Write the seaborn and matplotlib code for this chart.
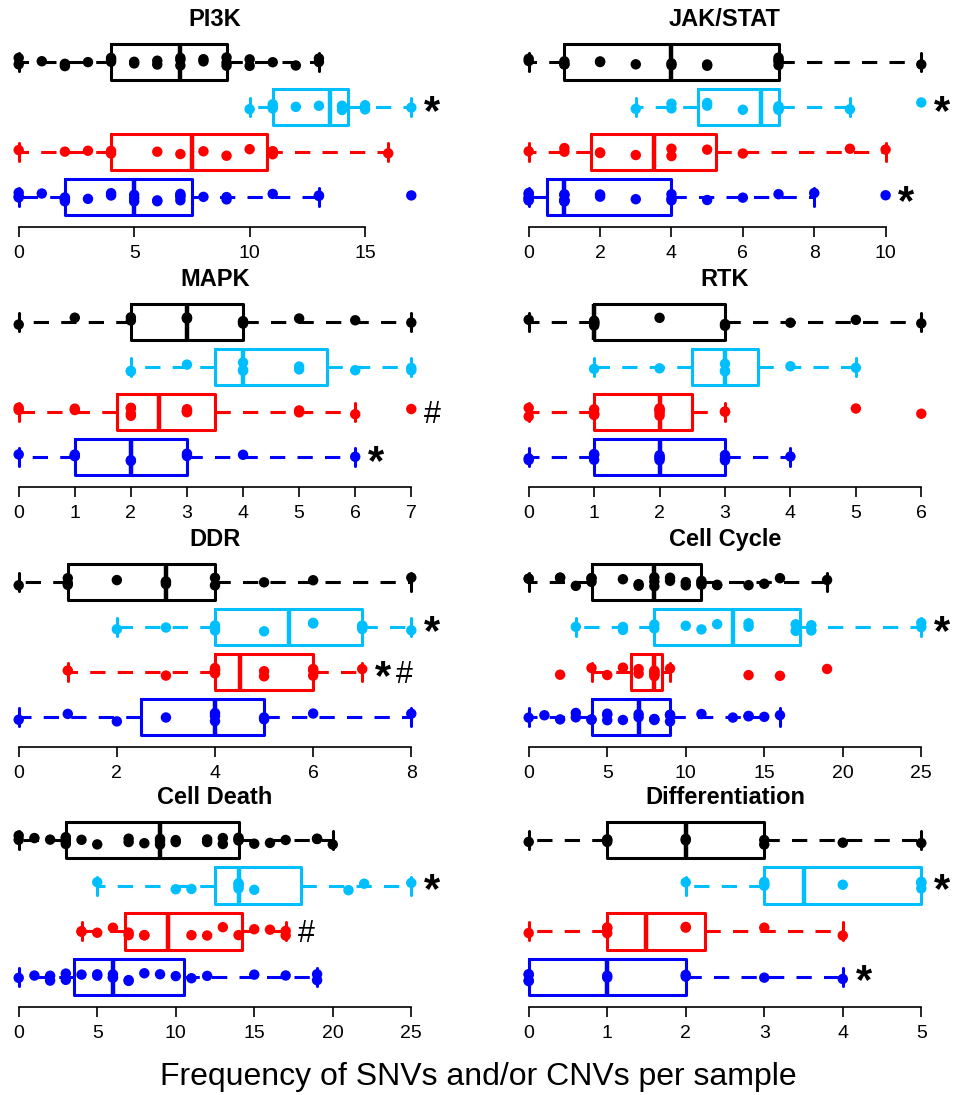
import numpy as np
import pandas as pd
import matplotlib
matplotlib.use("Agg")
import matplotlib.pyplot as plt
import seaborn as sns

# Gruplar (yukaridan asagiya) ve renkleri
GROUPS = ["Group 1", "Group 2", "Group 3", "Group 4"]
COLORS = ["black", "#00BFFF", "red", "blue"]

# PI3K
pi3k_g1 = [0, 0, 1, 2, 2, 3, 4, 4, 4, 5, 5, 6, 6, 7, 7, 7, 8, 8, 9, 9, 9, 10, 10, 11, 12, 13, 13]
pi3k_g2 = [10, 11, 11, 11, 12, 13, 14, 14, 14, 15, 15, 17]
pi3k_g3 = [0, 2, 3, 4, 4, 6, 7, 8, 9, 10, 11, 11, 11, 16]
pi3k_g4 = [0, 0, 0, 1, 2, 2, 2, 2, 3, 4, 4, 5, 5, 5, 6, 6, 7, 7, 7, 7, 8, 9, 9, 11, 13, 13, 17]

# JAK/STAT
jak_g1 = [0, 0, 1, 1, 1, 2, 2, 3, 4, 4, 5, 5, 7, 7, 7, 7, 11]
jak_g2 = [3, 4, 4, 5, 5, 6, 7, 7, 7, 7, 9, 11]
jak_g3 = [0, 1, 1, 2, 2, 3, 4, 4, 5, 6, 9, 10]
jak_g4 = [0, 0, 0, 0, 0, 0, 1, 1, 1, 1, 1, 1, 2, 2, 3, 4, 4, 4, 5, 6, 7, 8, 10]

# MAPK
mapk_g1 = [0, 1, 2, 2, 3, 3, 3, 4, 4, 4, 5, 6, 7]
mapk_g2 = [2, 2, 3, 4, 4, 4, 5, 5, 6, 7, 7]
mapk_g3 = [0, 0, 1, 1, 2, 2, 2, 2, 3, 3, 3, 3, 5, 5, 6, 7]
mapk_g4 = [0, 1, 1, 1, 2, 2, 3, 3, 4, 6]

# RTK
rtk_g1 = [0, 1, 1, 1, 1, 1, 1, 2, 3, 3, 4, 5, 6]
rtk_g2 = [1, 2, 3, 3, 3, 4, 5]
rtk_g3 = [0, 0, 1, 1, 1, 1, 2, 2, 2, 2, 2, 3, 3, 5, 6]
rtk_g4 = [0, 0, 1, 1, 1, 2, 2, 2, 2, 3, 3, 3, 4]

# DDR
ddr_g1 = [0, 1, 1, 1, 2, 3, 3, 3, 4, 4, 5, 6, 8]
ddr_g2 = [2, 3, 4, 4, 4, 5, 6, 6, 7, 7, 7, 8]
ddr_g3 = [1, 3, 4, 4, 4, 4, 5, 5, 6, 6, 6, 7]
ddr_g4 = [0, 1, 2, 3, 4, 4, 4, 5, 5, 6, 8]

# Cell Cycle
cc_g1 = [0, 0, 2, 2, 3, 4, 4, 4, 6, 7, 7, 8, 8, 8, 9, 9, 10, 10, 11, 11, 11, 12, 12, 14, 15, 16, 19]
cc_g2 = [3, 6, 6, 8, 8, 10, 11, 12, 14, 14, 17, 17, 18, 18, 25, 25]
cc_g3 = [2, 4, 5, 6, 7, 7, 8, 8, 8, 8, 8, 9, 14, 16, 19]
cc_g4 = [0, 1, 2, 3, 3, 4, 4, 5, 5, 5, 6, 7, 7, 8, 8, 8, 9, 9, 9, 11, 13, 14, 14, 15, 16]

# Cell Death
cd_g1 = [0, 0, 1, 2, 3, 3, 3, 3, 3, 4, 5, 7, 7, 8, 9, 9, 9, 10, 10, 12, 12, 13, 13, 14, 14, 14,
         15, 16, 17, 19, 19, 20]
cd_g2 = [5, 10, 11, 14, 14, 14, 14, 15, 21, 22, 25]
cd_g3 = [4, 4, 5, 6, 7, 7, 8, 8, 11, 12, 13, 14, 15, 16, 17, 17]
cd_g4 = [0, 1, 2, 2, 3, 3, 4, 5, 5, 6, 6, 6, 7, 7, 8, 9, 10, 11, 12, 15, 17, 19, 19]

# Differentiation
diff_g1 = [0, 1, 1, 1, 2, 2, 3, 3, 4, 5]
diff_g2 = [2, 3, 3, 3, 4, 5, 5, 5]
diff_g3 = [0, 1, 1, 1, 2, 2, 3, 4]
diff_g4 = [0, 0, 0, 0, 1, 1, 2, 2, 3, 4]

# Panel: baslik, gruplar, x tick'leri, isaretler (grup indeksi -> sembol)
panels = [
    ("PI3K", [pi3k_g1, pi3k_g2, pi3k_g3, pi3k_g4], [0, 5, 10, 15], {1: "*"}),
    ("JAK/STAT", [jak_g1, jak_g2, jak_g3, jak_g4], [0, 2, 4, 6, 8, 10], {1: "*", 3: "*"}),
    ("MAPK", [mapk_g1, mapk_g2, mapk_g3, mapk_g4], [0, 1, 2, 3, 4, 5, 6, 7], {2: "#", 3: "*"}),
    ("RTK", [rtk_g1, rtk_g2, rtk_g3, rtk_g4], [0, 1, 2, 3, 4, 5, 6], {}),
    ("DDR", [ddr_g1, ddr_g2, ddr_g3, ddr_g4], [0, 2, 4, 6, 8], {1: "*", 2: "*#"}),
    ("Cell Cycle", [cc_g1, cc_g2, cc_g3, cc_g4], [0, 5, 10, 15, 20, 25], {1: "*"}),
    ("Cell Death", [cd_g1, cd_g2, cd_g3, cd_g4], [0, 5, 10, 15, 20, 25], {1: "*", 2: "#"}),
    ("Differentiation", [diff_g1, diff_g2, diff_g3, diff_g4], [0, 1, 2, 3, 4, 5], {1: "*", 3: "*"}),
]

MARK_STYLE = {
    "*": dict(size=30, weight="bold", dy=-12),
    "#": dict(size=22, weight="normal", dy=-8),
}

# Yerlesim (piksel)
W, H = 956, 1095
col_left = [3, 513]
col_width = 424
row_top = [32, 292, 552, 810]
row_bottom = [227, 487, 747, 1007]

sns.set_style("ticks")
plt.rcParams["font.family"] = ["Liberation Sans", "DejaVu Sans"]
plt.rcParams["text.color"] = "black"
plt.rcParams["xtick.color"] = "black"
plt.rcParams["axes.edgecolor"] = "black"
np.random.seed(7)

fig = plt.figure(figsize=(W / 100, H / 100), dpi=100)

for k, (title, groups, ticks, marks) in enumerate(panels):
    r, c = divmod(k, 2)
    ax = fig.add_axes([col_left[c] / W, 1 - row_bottom[r] / H,
                       col_width / W, (row_bottom[r] - row_top[r]) / H])

    df = pd.DataFrame({
        "group": np.repeat(GROUPS, [len(g) for g in groups]),
        "value": np.concatenate(groups).astype(float),
    })

    sns.boxplot(data=df, x="value", y="group", hue="group", order=GROUPS,
                hue_order=GROUPS, palette=COLORS, fill=False, width=0.8,
                linewidth=2.2, showfliers=False, legend=False,
                whiskerprops={"linestyle": (0, (5, 4))},
                medianprops={"linewidth": 3.2}, ax=ax)
    sns.stripplot(data=df, x="value", y="group", hue="group", order=GROUPS,
                  hue_order=GROUPS, palette=COLORS, jitter=0.1, size=7.5,
                  legend=False, ax=ax)

    # R tarzi eksen limitleri (%4 genisletme)
    lo, hi = df["value"].min(), df["value"].max()
    pad = 0.04 * (hi - lo)
    ax.set_xlim(lo - pad, hi + pad)
    n = len(GROUPS)
    ax.set_ylim(n - 0.5 + 0.04 * n, -0.5 - 0.04 * n)

    ax.set_xticks(ticks)
    ax.set_yticks([])
    ax.set_xlabel("")
    ax.set_ylabel("")
    for s in ["top", "right", "left"]:
        ax.spines[s].set_visible(False)
    ax.spines["bottom"].set_bounds(ticks[0], ticks[-1])
    ax.spines["bottom"].set_linewidth(1.2)
    ax.tick_params(axis="x", length=7, width=1.2, labelsize=14, pad=6,
                   labelcolor="black")
    ax.set_title(title, fontsize=17, fontweight="bold", pad=4, color="black")

    # Anlamlilik isaretleri
    for gi, text in marks.items():
        xmax = max(groups[gi])
        dx = 15
        for ch in text:
            st = MARK_STYLE[ch]
            ax.annotate(ch, xy=(xmax, gi), xytext=(dx, st["dy"]),
                        textcoords="offset points", ha="center", va="baseline",
                        fontsize=st["size"], fontweight=st["weight"],
                        color="black", annotation_clip=False)
            dx += 15

fig.text(0.5, 1 - 1077 / H, "Frequency of SNVs and/or CNVs per sample",
         ha="center", va="center", fontsize=23, color="black")

fig.savefig("out.png", dpi=100)
